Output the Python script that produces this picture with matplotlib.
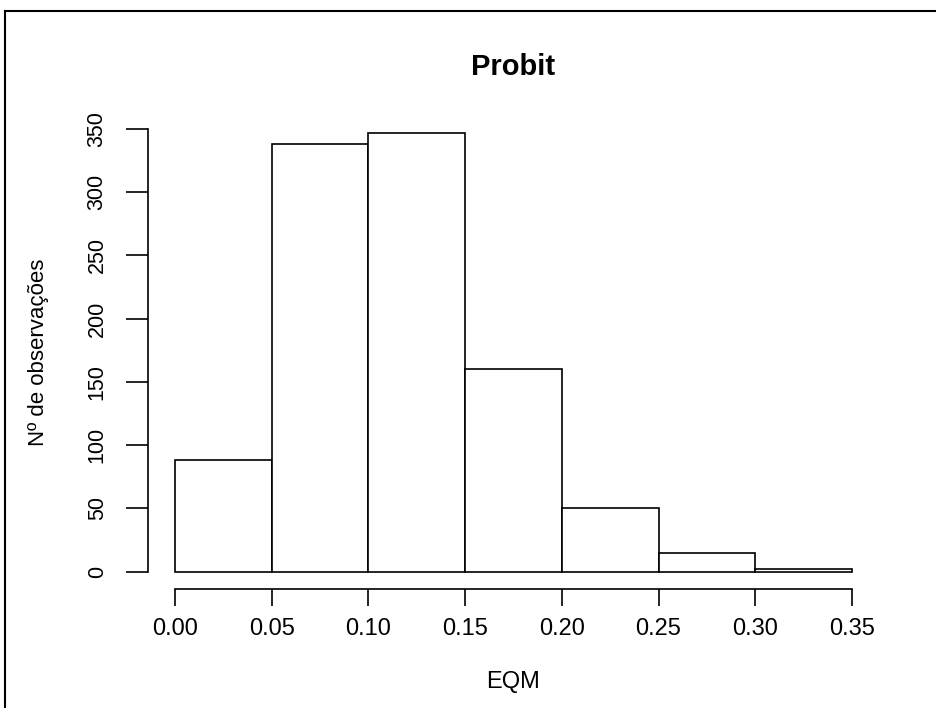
"""Probit EQM histogram (R base-graphics look)."""
import numpy as np
import matplotlib
matplotlib.use('Agg')
import matplotlib.pyplot as plt
from matplotlib.lines import Line2D

# Histogram data
bin_edges = [0.00, 0.05, 0.10, 0.15, 0.20, 0.25, 0.30, 0.35]
counts = [88, 338, 347, 160, 50, 15, 2]
x_ticks = [0.00, 0.05, 0.10, 0.15, 0.20, 0.25, 0.30, 0.35]
y_ticks = [0, 50, 100, 150, 200, 250, 300, 350]

plt.rcParams['font.family'] = ['Liberation Sans', 'DejaVu Sans']

fig = plt.figure(figsize=(9.36, 7.08), dpi=100)
ax = fig.add_axes([148 / 936, 1 - 589.3 / 708, (879 - 148) / 936, (589.3 - 115.2) / 708])

lefts = np.array(bin_edges[:-1])
widths = np.diff(bin_edges)
ax.bar(lefts, counts, width=widths, align='edge', facecolor='white',
       edgecolor='black', linewidth=1.2)

# R-style padded ranges (4% on each side)
ax.set_xlim(-0.014, 0.364)
ax.set_ylim(-13.88, 360.88)

for side in ('top', 'right'):
    ax.spines[side].set_visible(False)
ax.spines['left'].set_bounds(0, 350)
ax.spines['bottom'].set_bounds(0, 0.35)
ax.spines['left'].set_linewidth(1.2)
ax.spines['bottom'].set_linewidth(1.2)

ax.set_xticks(x_ticks)
ax.set_xticklabels([f'{v:.2f}' for v in x_ticks])
ax.set_yticks(y_ticks)
ax.set_yticklabels([str(v) for v in y_ticks], rotation=90, va='center')
ax.tick_params(axis='x', length=12, width=1.2, pad=9, labelsize=17)
ax.tick_params(axis='y', length=16, width=1.2, pad=13, labelsize=15.5)

ax.set_xlabel('EQM', fontsize=17, labelpad=22)
ax.set_ylabel('Nº de observações', fontsize=16, labelpad=27)
ax.set_title('Probit', fontsize=21, fontweight='bold', pad=29)

# Outer frame (left and top edges visible)
fig.add_artist(Line2D([5 / 936, 5 / 936], [0, 1 - 11 / 708], transform=fig.transFigure,
                      color='black', linewidth=1.5))
fig.add_artist(Line2D([5 / 936, 1], [1 - 11 / 708, 1 - 11 / 708], transform=fig.transFigure,
                      color='black', linewidth=1.5))

fig.savefig('out.png', dpi=100)
